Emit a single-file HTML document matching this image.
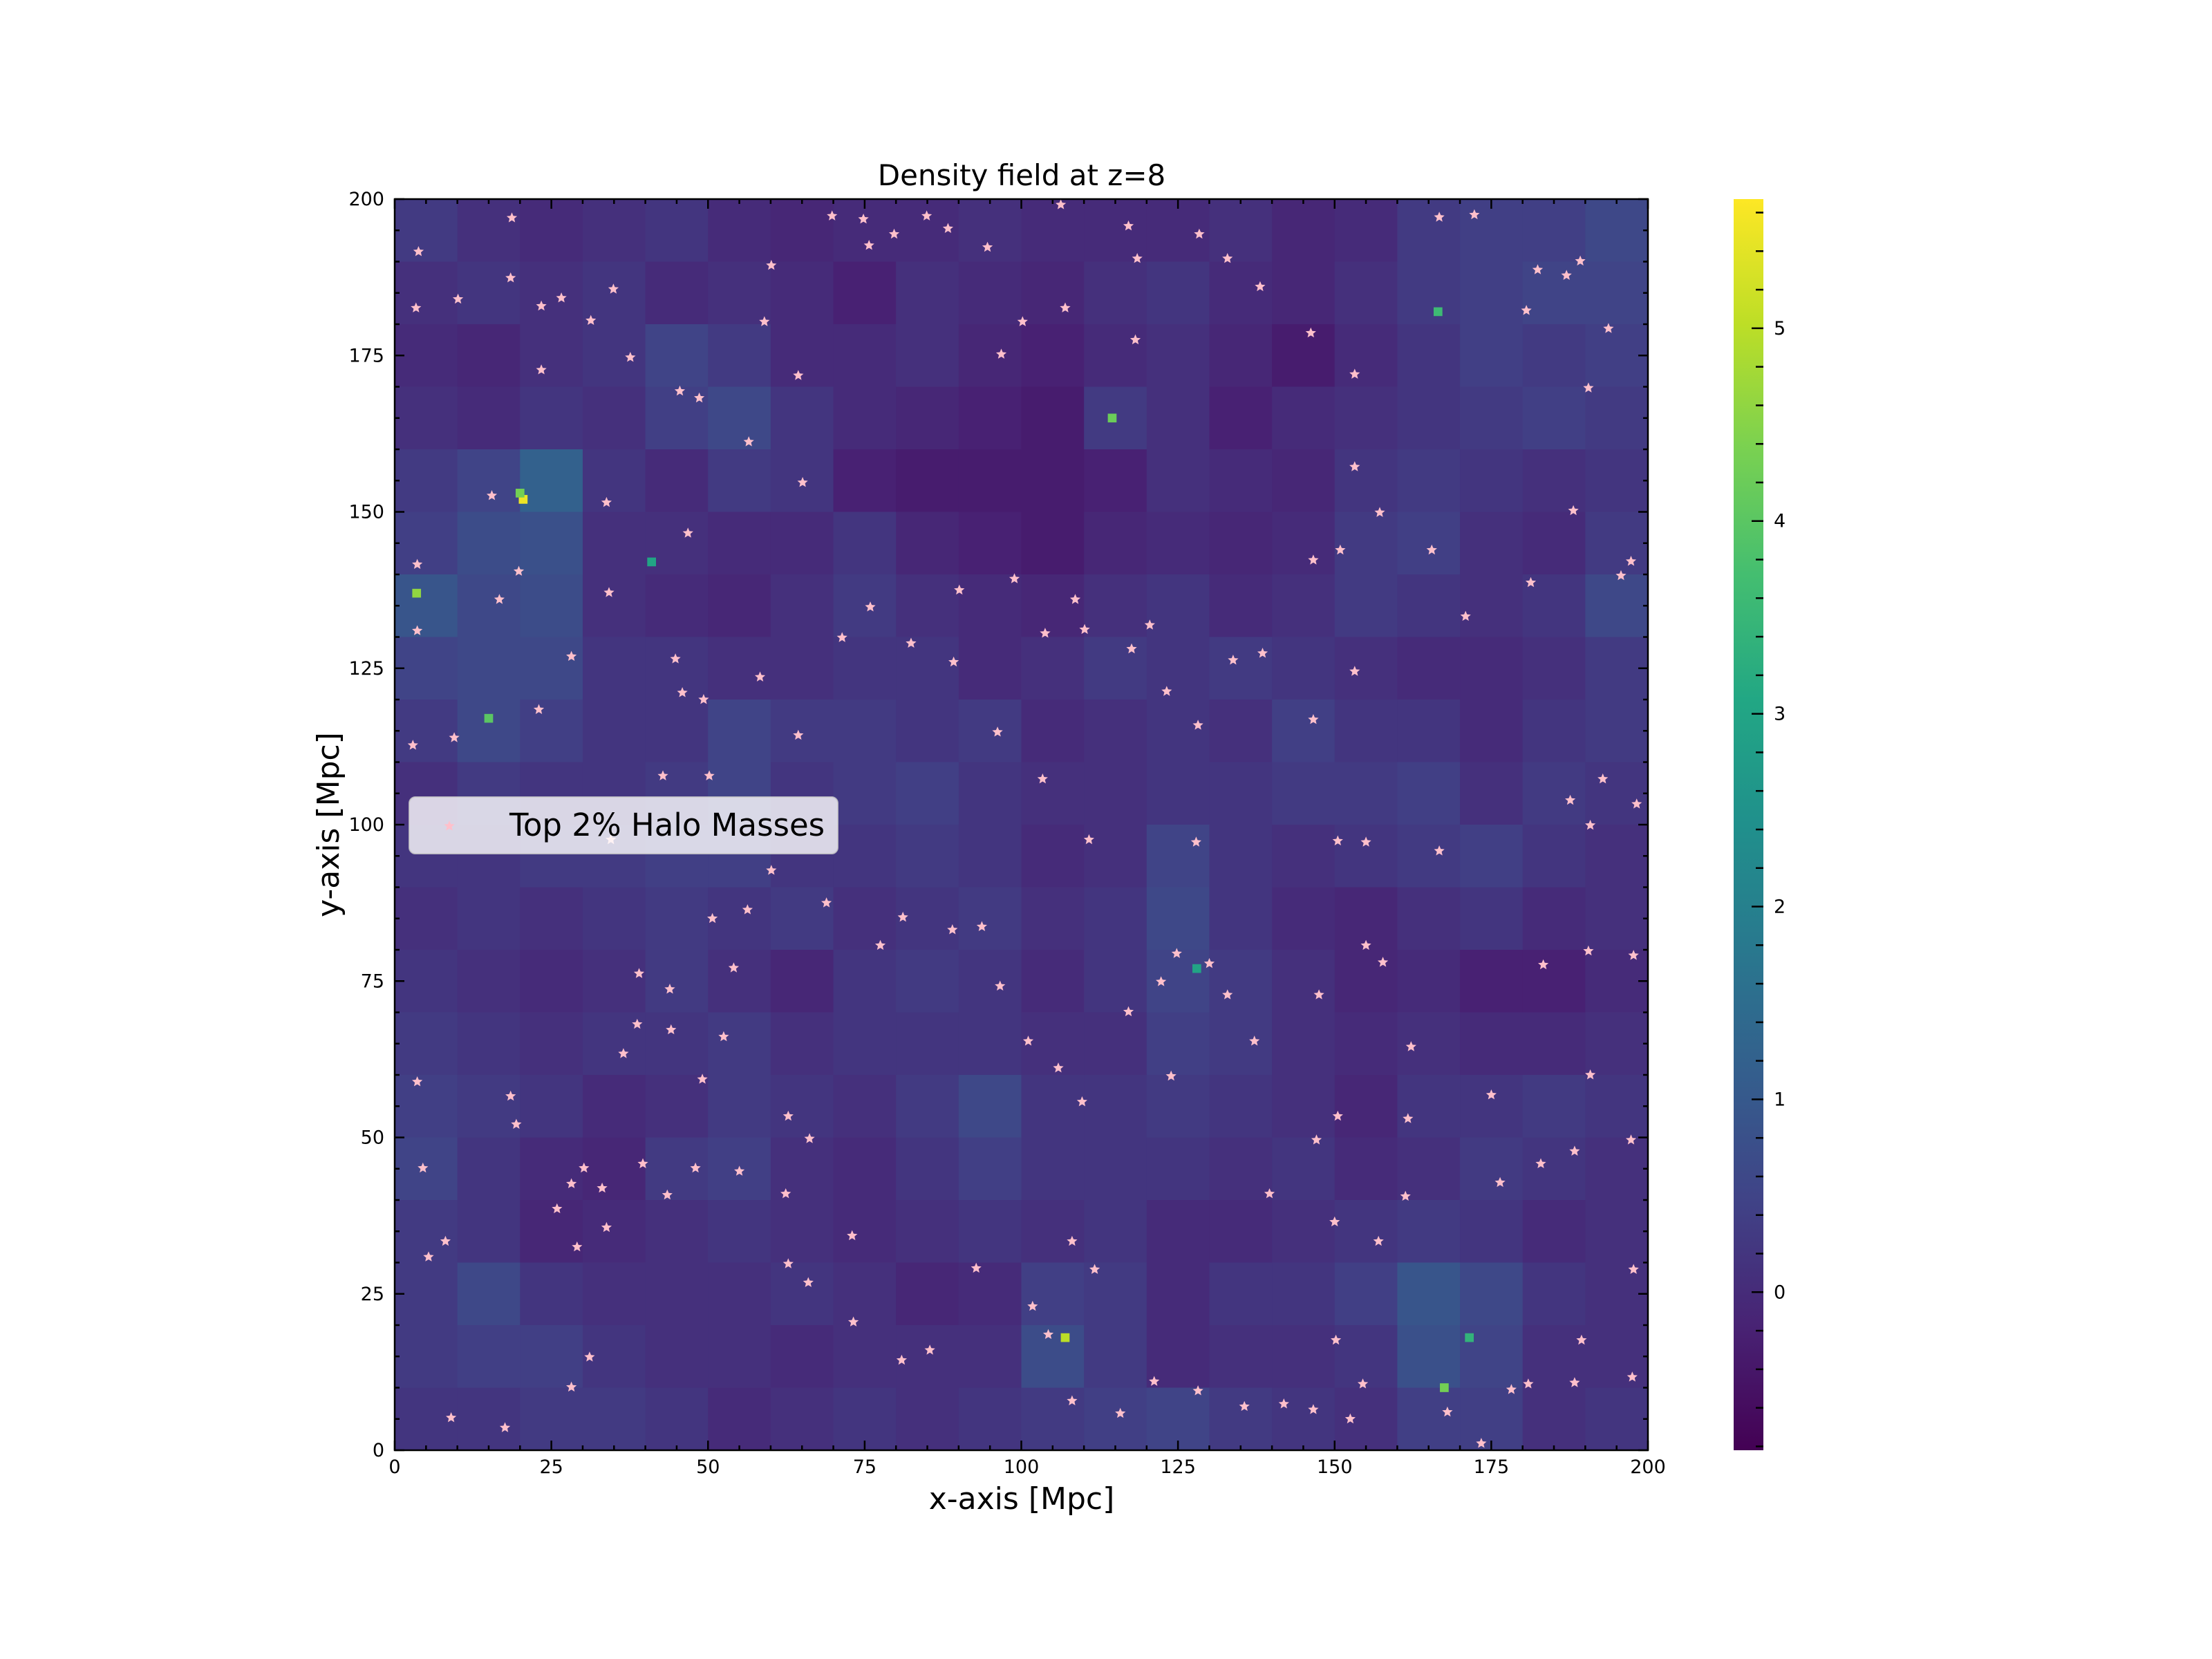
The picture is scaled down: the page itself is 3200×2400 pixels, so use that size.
<!DOCTYPE html>
<html><head><meta charset="utf-8"><style>
html,body{margin:0;padding:0;background:#fff;}
svg{display:block;font-family:"DejaVu Sans","Liberation Sans",sans-serif;}
</style></head><body>
<svg id="fig" width="3200" height="2400" viewBox="0 0 3200 2400" xmlns="http://www.w3.org/2000/svg">
<rect width="3200" height="2400" fill="#fff"/>
<defs><clipPath id="pc"><rect x="571" y="288" width="1813" height="1810"/></clipPath></defs>
<g id="heat" clip-path="url(#pc)"></g>
<g id="stars" clip-path="url(#pc)"></g>
<rect x="571" y="288" width="1813" height="1810" fill="none" stroke="#000" stroke-width="2.5"/>
<g id="ticks"></g>
<text x="1478" y="268" font-size="42" text-anchor="middle">Density field at z=8</text>
<text x="1478" y="2183" font-size="44" text-anchor="middle">x-axis [Mpc]</text>
<text x="0" y="0" font-size="44" text-anchor="middle" transform="translate(490,1193) rotate(-90)">y-axis [Mpc]</text>
<g>
<rect x="592" y="1153" width="620" height="82" rx="9" fill="#fff" fill-opacity="0.8" stroke="#ccc" stroke-opacity="0.8" stroke-width="2"/>
<text x="737" y="1209" font-size="45">Top 2% Halo Masses</text>
</g>
<defs><linearGradient id="cbg" x1="0" y1="1" x2="0" y2="0"></linearGradient></defs>
<rect id="cbar" x="2508" y="288" width="43" height="1810"/>
<g id="cbticks"></g>
</svg>
<script>
// Coarse density grid (10 Mpc blocks), rows from y=200 (top) down to y=0
const densityRows = [
[0.3,0.1,0,0.1,0.2,0,-0.1,0,0,0.1,0,0,0,0.1,-0.1,0,0.3,0.4,0.4,0.6],
[0.1,0.2,0.1,0.2,0,0.1,0,-0.2,0.1,0,-0.1,0.1,0.2,0,-0.1,0.1,0.3,0.4,0.5,0.5],
[0,-0.1,0.1,0.2,0.5,0.3,0,0,0.1,-0.1,-0.2,0,0.1,-0.1,-0.3,0,0.2,0.4,0.3,0.4],
[0.1,0,0.2,0.1,0.4,0.6,0.2,0,-0.1,-0.2,-0.3,0.3,0.1,-0.2,0,0.1,0.2,0.3,0.4,0.3],
[0.3,0.5,1.2,0.2,0,0.3,0.2,-0.2,-0.3,-0.3,-0.3,-0.2,0.1,0,-0.1,0.2,0.3,0.2,0.1,0.2],
[0.4,0.7,0.8,0.1,0.1,0,0,0.2,-0.1,-0.2,-0.3,-0.1,0,-0.1,0,0.3,0.4,0.1,0,0.3],
[0.9,0.6,0.7,0.1,0,-0.1,0.1,0.3,0.1,0,-0.1,0.1,0.2,0,0.1,0.3,0.2,0.1,0.2,0.6],
[0.5,0.6,0.6,0.2,0.2,0.1,0.1,0.2,0.2,0,0.1,0.3,0.2,0.3,0.2,0.1,0,0,0.1,0.3],
[0.3,0.6,0.4,0.2,0.2,0.5,0.3,0.3,0.2,0.3,0,0.1,0.2,0.1,0.4,0.2,0.2,0,0.2,0.3],
[0.1,0.3,0.2,0.2,0.3,0.5,0.2,0.3,0.4,0.2,0.1,0.1,0.2,0.2,0.3,0.3,0.4,0.1,0.3,0.2],
[0.2,0.2,0.3,0.3,0.4,0.4,0.2,0.2,0.3,0.2,0,0.1,0.5,0.2,0.1,0.2,0.3,0.4,0.2,0.1],
[0.1,0.2,0.1,0.2,0.3,0.2,0.3,0.1,0.2,0.3,0.1,0.2,0.6,0.2,0,-0.1,0.1,0.2,0,0.1],
[0.2,0.1,0,0.1,0.3,0.1,-0.1,0.2,0.3,0.2,0,0.2,0.5,0.3,0.1,-0.1,0,-0.2,-0.2,0],
[0.3,0.2,0.1,0.2,0.2,0.3,0.1,0.2,0.2,0.2,0.1,0.1,0.4,0.3,0.1,0,0.1,0,0,0.1],
[0.4,0.3,0.2,0,0.1,0.3,0.2,0.1,0.3,0.6,0.2,0.2,0.3,0.2,0.1,-0.1,0.2,0.2,0.3,0.2],
[0.5,0.2,0,-0.1,0.3,0.4,0.1,0,0.2,0.4,0.2,0.2,0.2,0.1,0.2,0,0.1,0.3,0.2,0.1],
[0.3,0.2,-0.1,0,0.1,0.2,0.1,0,0.1,0.2,0.1,0.2,0,0,0.1,0.2,0.3,0.2,0,0.1],
[0.3,0.6,0.2,0.1,0.1,0.1,0.2,0.1,-0.1,0,0.4,0.3,0,0.2,0.2,0.4,0.9,0.6,0.2,0.1],
[0.3,0.4,0.4,0.2,0.1,0.1,0,0.1,0.1,0.1,0.7,0.3,0,0.1,0.1,0.2,0.8,0.5,0.1,0.1],
[0.2,0.2,0.3,0.3,0.2,0,0.1,0.2,0.1,0.2,0.3,0.4,0.5,0.3,0.2,0.1,0.4,0.4,0.1,0.2]
];
// Bright density peaks [x Mpc, y Mpc, value]
const peakX = [20.5,3.5,107,114.5,15,166.5,167.5,41,128,20,171.5];
const peakY = [152,137,18,165,117,182,10,142,77,153,18];
const peakV = [5.5,4.6,5.0,4.2,4.0,3.6,4.3,3.0,3.0,4.3,3.4];
// Halo positions (Mpc)
const haloX = [3.8,3.4,10.1,18.5,18.7,23.4,23.4,26.6,31.3,34.9,37.6,45.5,48.6,56.5,59,60.1,64.4,65.1,69.8,74.8,75.7,79.7,84.9,88.3,94.6,96.8,100.2,107,106.3,117.1,118.5,118.2,128.4,132.9,138.1,146.2,153.2,166.7,172.3,180.6,182.4,187,189.2,193.7,190.5,
15.5,19.8,16.7,3.6,33.8,46.8,34.2,3.6,2.9,9.5,28.2,23,44.8,45.9,49.3,42.8,50.2,34.5,58.3,64.4,71.4,75.9,82.4,90.1,89.2,96.2,98.9,103.8,108.6,110.1,117.6,120.5,123.2,128.2,133.8,138.5,146.6,153.2,146.6,150.9,153.2,157.2,165.5,170.9,181.3,188.1,195.7,197.3,190.8,187.6,192.8,198.2,166.7,155,150.5,127.9,110.8,103.4,
117.1,122.3,124.8,130,132.9,137.2,123.9,109.7,105.9,101.1,96.6,93.7,89,81.1,77.5,68.9,60.1,56.3,50.7,54.1,52.5,49.1,55,48,38.7,44.1,39,43.9,36.5,30.2,28.2,19.4,18.5,3.6,4.5,5.4,8.1,9,17.6,28.2,31.1,29.1,25.9,33.1,33.8,39.6,43.5,62.4,62.8,62.8,66.2,66,73,73.2,80.9,85.4,92.8,101.8,104.3,108.1,111.7,108.1,115.8,121.2,128.2,135.6,141.9,146.6,150.2,152.5,154.5,157,161.3,161.7,168,173.4,178.2,180.9,188.3,189.4,197.5,197.7,182.9,188.3,190.8,197.3,183.3,190.5,197.7,175,176.4,162.2,157.7,155,147.5,150.5,147.1,139.6,150];
const haloY = [191.6,182.6,184,187.4,197,172.7,182.9,184.2,180.6,185.6,174.7,169.3,168.2,161.2,180.4,189.4,171.8,154.7,197.3,196.8,192.6,194.4,197.3,195.3,192.3,175.2,180.4,182.6,199.1,195.7,190.5,177.5,194.4,190.5,186,178.6,172,197.1,197.5,182.2,188.7,187.8,190.1,179.3,169.8,
152.6,140.5,136,141.6,151.5,146.6,137.1,131,112.7,113.9,126.9,118.4,126.5,121.1,120,107.8,107.8,97.6,123.6,114.3,129.9,134.8,129,137.5,126,114.8,139.3,130.6,136,131.2,128.1,131.9,121.3,115.9,126.3,127.4,116.8,124.5,142.3,143.9,157.2,149.9,143.9,133.3,138.7,150.2,139.8,142.1,99.9,103.9,107.3,103.3,95.8,97.2,97.4,97.2,97.6,107.3,
70.1,74.9,79.4,77.8,72.8,65.4,59.8,55.7,61.1,65.4,74.2,83.7,83.2,85.2,80.7,87.5,92.7,86.4,85,77.1,66.1,59.3,44.6,45.1,68.1,67.2,76.2,73.7,63.4,45.1,42.6,52.1,56.6,58.9,45.1,30.9,33.4,5.2,3.6,10.1,14.9,32.5,38.6,41.9,35.6,45.8,40.8,41,53.4,29.8,49.8,26.8,34.3,20.5,14.4,16,29.1,23,18.5,33.4,28.9,7.9,5.9,11,9.5,7,7.4,6.5,17.6,5,10.6,33.4,40.6,53,6.1,1.1,9.7,10.6,10.8,17.6,11.7,28.9,45.8,47.8,60,49.6,77.6,79.8,79.1,56.8,42.8,64.5,78,80.7,72.8,53.4,49.6,41,36.5];
const xTicks = [0,25,50,75,100,125,150,175,200];
const yTicks = [0,25,50,75,100,125,150,175,200];
const cbTicks = [0,1,2,3,4,5];
const vmin = -0.82, vmax = 5.67;

const X0=571,X1=2384,Y0=2098,Y1=288;
const sx = v => X0 + (v/200)*(X1-X0);
const sy = v => Y0 - (v/200)*(Y0-Y1);
const CB0=2098, CB1=288;
const scb = v => CB0 - (v-vmin)/(vmax-vmin)*(CB0-CB1);
const NS="http://www.w3.org/2000/svg";
const vir=[[68,1,84],[72,35,116],[64,67,135],[52,94,141],[41,120,142],[32,144,140],[34,167,132],[68,190,112],[121,209,81],[189,222,38],[253,231,37]];
function cmap(v){let t=(v-vmin)/(vmax-vmin);t=Math.max(0,Math.min(1,t))*10;const i=Math.min(9,Math.floor(t)),f=t-i;const a=vir[i],b=vir[i+1];return `rgb(${Math.round(a[0]+(b[0]-a[0])*f)},${Math.round(a[1]+(b[1]-a[1])*f)},${Math.round(a[2]+(b[2]-a[2])*f)})`;}
function mk(tag,attrs,parent){const e=document.createElementNS(NS,tag);for(const k in attrs)e.setAttribute(k,attrs[k]);parent.appendChild(e);return e;}

const heat=document.getElementById('heat');
const nR=densityRows.length,nC=densityRows[0].length;
for(let r=0;r<nR;r++){for(let c=0;c<nC;c++){
  const y0=200-(r+1)*200/nR,x0=c*200/nC;
  const e=mk('rect',{x:sx(x0),y:sy(y0+200/nR),width:sx(x0+200/nC)-sx(x0)+0.6,height:sy(y0)-sy(y0+200/nR)+0.6,fill:cmap(densityRows[r][c])},heat);
  
  
}}
const PS=1.4;
for(let i=0;i<peakX.length;i++){
  const e=mk('rect',{x:sx(peakX[i]-PS/2),y:sy(peakY[i]+PS/2),width:sx(PS)-sx(0),height:sy(0)-sy(PS),fill:cmap(peakV[i])},heat);
  
  
}
function starPts(cx,cy,R){let p=[];for(let k=0;k<10;k++){const a=-Math.PI/2+k*Math.PI/5,rr=k%2?R*0.45:R;p.push((cx+rr*Math.cos(a)).toFixed(1)+','+(cy+rr*Math.sin(a)).toFixed(1));}return p.join(' ');}
const stars=document.getElementById('stars');
for(let i=0;i<haloX.length;i++){
  const e=mk('polygon',{points:starPts(sx(haloX[i]),sy(haloY[i]),8),fill:'#ffc0cb'},stars);
  
  
}
const lm=mk('polygon',{points:starPts(650,1195,8),fill:'#ffc0cb'},document.getElementById('fig'));



const tk=document.getElementById('ticks');
function line(x1,y1,x2,y2,p){mk('line',{x1,y1,x2,y2,stroke:'#000','stroke-width':2.5},p);}
for(let v=0;v<=200;v+=5){
  const L=(v%25===0)?14:7;
  line(sx(v),Y0,sx(v),Y0-L,tk);line(sx(v),Y1,sx(v),Y1+L,tk);
  line(X0,sy(v),X0+L,sy(v),tk);line(X1,sy(v),X1-L,sy(v),tk);
}
xTicks.forEach(v=>{const e=mk('text',{x:sx(v),y:2131,'font-size':27,'text-anchor':'middle'},tk);e.textContent=v;
  
  });
yTicks.forEach(v=>{const e=mk('text',{x:556,y:sy(v)+9,'font-size':27,'text-anchor':'end'},tk);e.textContent=v;
  
  });

const g=document.getElementById('cbg');
for(let k=0;k<=10;k++){mk('stop',{offset:(k*10)+'%','stop-color':`rgb(${vir[k].join(',')})`},g);}
document.getElementById('cbar').setAttribute('fill','url(#cbg)');
const cbt=document.getElementById('cbticks');
for(let v=-0.8;v<=5.61;v+=0.2){const vv=Math.round(v*10)/10;const major=Math.abs(vv-Math.round(vv))<1e-6;
  line(2551,scb(vv),2551-(major?17:11),scb(vv),cbt);}
cbTicks.forEach(v=>{const e=mk('text',{x:2566,y:scb(v)+9,'font-size':27},cbt);e.textContent=v;
  
  });
</script>
</body></html>
